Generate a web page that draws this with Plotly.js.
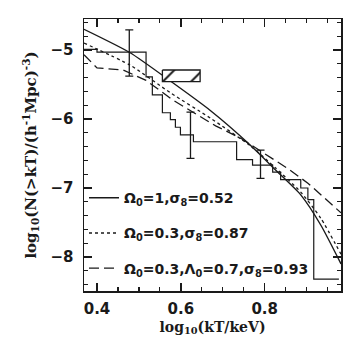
<!DOCTYPE html>
<html>
<head>
<meta charset="utf-8">
<script src="https://cdn.plot.ly/plotly-3.0.1.min.js"></script>
<style>
  html, body { margin: 0; padding: 0; background: #fff; }
  #myPlot { width: 346px; height: 346px; }
</style>
</head>
<body>
<div id="myPlot"></div>
<script>
// model curves (log10 kT, log10 N(>kT))
let solidX = [0.369, 0.479, 0.575, 0.671, 0.766, 0.826, 0.886, 0.934, 0.982];
let solidY = [-4.70, -5.04, -5.45, -5.88, -6.38, -6.74, -7.10, -7.54, -8.10];

let dottedX = [0.369, 0.479, 0.575, 0.671, 0.766, 0.826, 0.886, 0.934, 0.982];
let dottedY = [-4.90, -5.22, -5.62, -5.99, -6.39, -6.71, -7.06, -7.44, -7.96];

let dashedX = [0.369, 0.400, 0.462, 0.517, 0.582, 0.683, 0.743, 0.798, 0.853, 0.903, 0.982];
let dashedY = [-5.07, -5.26, -5.29, -5.44, -5.73, -6.10, -6.28, -6.49, -6.71, -6.93, -7.36];

// observed cumulative histogram (left edge of each step)
let histX = [0.369, 0.400, 0.517, 0.532, 0.556, 0.575, 0.587, 0.599, 0.630, 0.733, 0.771, 0.819, 0.838, 0.886, 0.903, 0.917, 0.977];
let histY = [-4.99, -5.03, -5.39, -5.65, -5.91, -6.01, -6.12, -6.23, -6.33, -6.59, -6.67, -6.77, -6.88, -7.00, -7.17, -8.32, -8.32];

// error bars
let errX = [0.477, 0.623, 0.790];
let errY = [-5.04, -6.23, -6.65];
let errPlus = [0.33, 0.33, 0.20];
let errMinus = [0.34, 0.34, 0.21];

// hatched box
let boxX = [0.556, 0.646];
let boxY = [-5.29, -5.46];

let legendNames = [
    "Ω<sub>0</sub>=1,σ<sub>8</sub>=0.52",
    "Ω<sub>0</sub>=0.3,σ<sub>8</sub>=0.87",
    "Ω<sub>0</sub>=0.3,Λ<sub>0</sub>=0.7,σ<sub>8</sub>=0.93"
];

const ink = '#1a1a1a';
const sans = 'DejaVu Sans, Liberation Sans, sans-serif';
const serif = 'DejaVu Serif, serif';

function renderChart() {

    const solid = {
        x: solidX, y: solidY, mode: 'lines', type: 'scatter',
        name: legendNames[0], legendgroup: 'a',
        line: { color: ink, width: 1.4, shape: 'spline', smoothing: 0.6 }
    };
    const dotted = {
        x: dottedX, y: dottedY, mode: 'lines', type: 'scatter',
        name: legendNames[1], legendgroup: 'b',
        line: { color: ink, width: 1.3, dash: 'dot', shape: 'spline', smoothing: 0.6 }
    };
    const dashed = {
        x: dashedX, y: dashedY, mode: 'lines', type: 'scatter',
        name: legendNames[2], legendgroup: 'c',
        line: { color: ink, width: 1.3, dash: '10px,5px' }
    };

    const hist = {
        x: histX, y: histY, mode: 'lines', type: 'scatter', showlegend: false,
        line: { color: ink, width: 1.2, shape: 'hv' }
    };

    const errs = {
        x: errX, y: errY, mode: 'markers', type: 'scatter', showlegend: false,
        marker: { size: 1, color: 'rgba(0,0,0,0)' },
        error_y: { type: 'data', symmetric: false, array: errPlus, arrayminus: errMinus,
                   color: ink, thickness: 1.3, width: 4 }
    };

    // closed polygon of the box
    const box = {
        x: [boxX[0], boxX[1], boxX[1], boxX[0], boxX[0]],
        y: [boxY[0], boxY[0], boxY[1], boxY[1], boxY[0]],
        mode: 'lines', type: 'scatter', showlegend: false, fill: 'toself',
        fillcolor: 'white',
        fillpattern: { shape: '/', size: 20, solidity: 0.1, fgcolor: ink, bgcolor: 'white' },
        line: { color: ink, width: 1.3 }
    };

    const axisCommon = {
        showline: true, linecolor: ink, linewidth: 1.5, mirror: 'ticks',
        ticks: 'inside', ticklen: 8, tickwidth: 1.3, tickcolor: ink,
        showgrid: false, zeroline: false,
        tickfont: { family: sans, size: 15, color: ink, weight: 'bold' }
    };

    const layout = {
        width: 346, height: 346,
        margin: { l: 84, r: 5, t: 19, b: 55 },
        paper_bgcolor: 'white', plot_bgcolor: 'white',
        showlegend: true,
        legend: {
            x: 0.0, y: 0.40, xanchor: 'left', yanchor: 'top',
            bgcolor: 'rgba(0,0,0,0)', tracegroupgap: 14,
            font: { family: sans, size: 14, color: ink, weight: 'bold' }
        },
        xaxis: Object.assign({}, axisCommon, {
            range: [0.369, 0.982],
            tickvals: [0.4, 0.6, 0.8], ticktext: ['0.4', '0.6', '0.8'],
            ticklabelstandoff: 3,
            minor: { dtick: 0.05, tick0: 0.4, ticks: 'inside', ticklen: 4, tickcolor: ink, tickwidth: 1.2 },
            title: { text: 'log<sub>10</sub>(kT/keV)', standoff: 5,
                     font: { family: serif, size: 14, color: ink, weight: 'bold' } }
        }),
        yaxis: Object.assign({}, axisCommon, {
            range: [-8.493, -4.551],
            tickvals: [-5, -6, -7, -8],
            ticklabelstandoff: 6,
            minor: { dtick: 0.2, tick0: -5, ticks: 'inside', ticklen: 4, tickcolor: ink, tickwidth: 1.2 },
            title: { text: 'log<sub>10</sub>(N(>kT)/(h<sup>-1</sup>Mpc)<sup>-3</sup>)', standoff: 10,
                     font: { family: serif, size: 15, color: ink, weight: 'bold' } }
        })
    };

    Plotly.newPlot('myPlot', [solid, dotted, dashed, hist, errs, box], layout, { displayModeBar: false, staticPlot: true });
}

renderChart();
</script>
</body>
</html>
